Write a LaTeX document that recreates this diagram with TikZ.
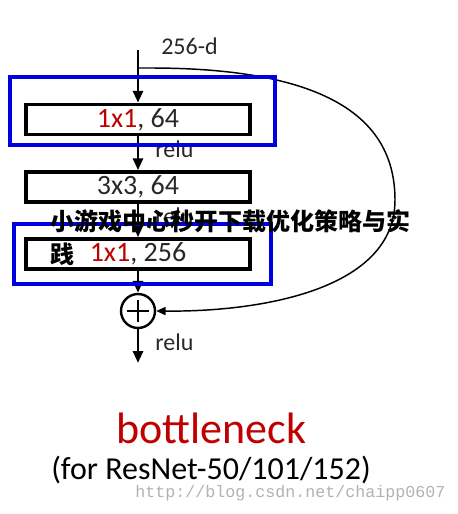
\documentclass[tikz,border=0pt]{standalone}
\usepackage{fontspec}
\setmainfont{Carlito}
\newfontfamily\cjk{Noto Sans CJK SC}
\newfontfamily\wmfont{Liberation Mono}
\usetikzlibrary{arrows.meta}
\definecolor{convred}{RGB}{192,0,0}
\definecolor{markblue}{RGB}{0,0,225}
\definecolor{inktext}{RGB}{40,40,40}

\begin{document}
\begin{tikzpicture}[x=0.75pt,y=-0.75pt,
    layer/.style={draw,line width=2.6pt,minimum width=168pt,minimum height=22.5pt,inner sep=0pt,
      font=\fontsize{21}{24}\selectfont,text=inktext},
    flow/.style={line width=2.2pt,-{Triangle[length=9pt,width=7.5pt]}},
    skip/.style={line width=1.1pt,-{Triangle[length=7pt,width=6pt]}},
    note/.style={font=\fontsize{18}{22}\selectfont,text=inktext,inner sep=0pt,anchor=base west},
    highlight/.style={draw=markblue,line width=3.6pt}
  ]
      \useasboundingbox (0,0) rectangle (457,514);

      % input and the three layers
      \coordinate (in) at (138,50);
      \coordinate (split) at (138,68);
      \node[layer] (c1) at (138,119.5) {\textcolor{convred}{1x1}, 64};
      \node[layer] (c2) at (138,187) {3x3, 64};
      \node[layer] (c3) at (138,254) {\textcolor{convred}{1x1}, 256};
      \node[draw,circle,line width=1.8pt,minimum size=25.5pt,inner sep=0pt] (sum) at (138,311) {};
      \draw[line width=2pt] (sum.center) +(-11,0) -- +(11,0) (sum.center) +(0,-11) -- +(0,11);
      \coordinate (out) at (138,363);

      \node[note] (dim) at (161,54) {256-d};
      \node[note] (relu1) at (155,157) {relu};
      \node[note] (relu2) at (155,224) {relu};
      \node[note] (relu3) at (155,350) {relu};

      \draw[flow] (in) -- (c1.north);
      \draw[flow] (c1.south) -- (c2.north);
      \draw[flow] (c2.south) -- (c3.north);
      \draw[flow] (c3.south) -- (sum.north);
      \draw[flow] (sum.south) -- (out);

      % shortcut
      \draw[skip] (split) -- (150,68) .. controls (330,68) and (395,120) .. (395,200)
        .. controls (395,290) and (260,312) .. (sum.east);

      % blue frames
      \draw[highlight] (10,77) rectangle (275,145);
      \draw[highlight] (14,224) rectangle (271,284);

      % captions
      \node[anchor=base,inner sep=0pt,text=convred,font=\fontsize{33}{36}\selectfont] (cap) at (211.5,443) {bottleneck};
      \node[anchor=base,inner sep=0pt,text=black,font=\fontsize{24}{28}\selectfont] (subcap) at (211,479) {(for ResNet-50/101/152)};

      % overlays
      \node[anchor=base west,inner sep=0pt,font=\cjk\bfseries\fontsize{18}{22}\selectfont] (title1) at (50,230) {小游戏中心秒开下载优化策略与实};
      \node[anchor=base west,inner sep=0pt,font=\cjk\bfseries\fontsize{18}{22}\selectfont] (title2) at (50,263) {践};
      \node[anchor=base west,inner sep=0pt,text=black!30,font=\wmfont\fontsize{12.5}{14}\selectfont] (wm) at (135,497) {http://blog.csdn.net/chaipp0607};
\end{tikzpicture}
\end{document}
